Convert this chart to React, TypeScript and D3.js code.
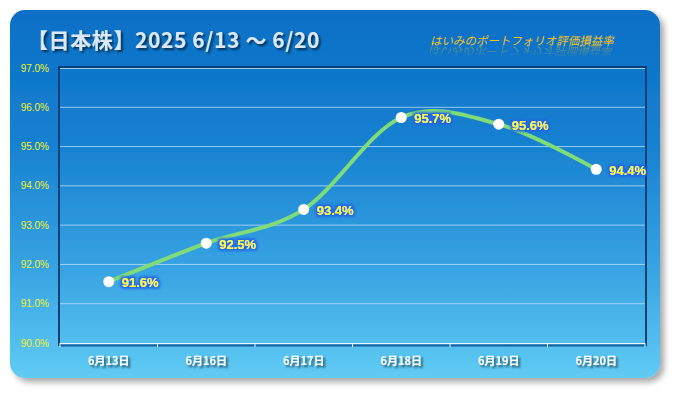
import React from "react";
import * as d3 from "d3";

const categories = ["6月13日", "6月16日", "6月17日", "6月18日", "6月19日", "6月20日"];
const values = [91.56, 92.54, 93.4, 95.74, 95.57, 94.42];
const yTicks = [90, 91, 92, 93, 94, 95, 96, 97];
const title = "【日本株】2025 6/13 〜 6/20";
const subtitle = "はいみのポートフォリオ評価損益率";

const W = 675, H = 393;
const card = { x: 10, y: 10, w: 650, h: 368, r: 15 };
const plot = { l: 60, r: 645, t: 68, b: 343 };

export default function App() {
  const x = d3.scaleBand<string>().domain(categories).range([plot.l, plot.r]);
  const y = d3.scaleLinear().domain([90, 97]).range([plot.b, plot.t]);
  const pts: [number, number][] = values.map((v, i) => [x(categories[i])! + x.bandwidth() / 2, y(v)]);
  const line = d3.line().curve(d3.curveCardinal.tension(0))(pts) || "";
  const bounds = categories.map((c) => x(c)!).concat([plot.r]);
  const font = "'Liberation Sans', 'Noto Sans CJK JP', sans-serif";
  const jp = "'Noto Sans CJK JP', sans-serif";

  return (
    <svg width={W} height={H} style={{ position: "absolute", left: 0, top: 0 }} fontFamily={font}>
      <defs>
        <linearGradient id="bg" x1="0" y1="0" x2="0" y2="1">
          <stop offset="0" stopColor="#0a6fc6" />
          <stop offset="0.35" stopColor="#1680d0" />
          <stop offset="0.7" stopColor="#37a3e2" />
          <stop offset="1" stopColor="#60cbf4" />
        </linearGradient>
        <filter id="shadow" x="-5%" y="-5%" width="115%" height="115%">
          <feGaussianBlur in="SourceAlpha" stdDeviation="3" />
          <feOffset dx="4" dy="4" />
          <feComponentTransfer><feFuncA type="linear" slope="0.35" /></feComponentTransfer>
          <feMerge><feMergeNode /><feMergeNode in="SourceGraphic" /></feMerge>
        </filter>
        <filter id="glow" x="-20%" y="-40%" width="140%" height="180%">
          <feMorphology in="SourceAlpha" operator="dilate" radius="2" result="d" />
          <feGaussianBlur in="d" stdDeviation="1.2" result="b" />
          <feFlood floodColor="#1f63e6" floodOpacity="0.85" />
          <feComposite in2="b" operator="in" result="g" />
          <feMerge><feMergeNode in="g" /><feMergeNode in="SourceGraphic" /></feMerge>
        </filter>
        <filter id="tshadow" x="-10%" y="-30%" width="120%" height="160%">
          <feGaussianBlur in="SourceAlpha" stdDeviation="1.2" />
          <feOffset dx="1.5" dy="1.5" />
          <feComponentTransfer><feFuncA type="linear" slope="0.6" /></feComponentTransfer>
          <feMerge><feMergeNode /><feMergeNode in="SourceGraphic" /></feMerge>
        </filter>
        <linearGradient id="refl" x1="0" y1="0" x2="0" y2="1">
          <stop offset="0" stopColor="white" stopOpacity="0.45" />
          <stop offset="1" stopColor="white" stopOpacity="0" />
        </linearGradient>
        <mask id="reflMask">
          <rect x="420" y="46" width="220" height="12" fill="url(#refl)" />
        </mask>
      </defs>

      <rect x={card.x} y={card.y} width={card.w} height={card.h} rx={card.r} fill="url(#bg)" filter="url(#shadow)" />

      {/* plot frame */}
      {yTicks.slice(1, -1).map((t) => (
        <line key={t} x1={plot.l} x2={plot.r} y1={y(t)} y2={y(t)} stroke="#b8dcf6" strokeOpacity={0.8} strokeWidth={1} />
      ))}
      <line x1={plot.l} x2={plot.r} y1={plot.t - 1} y2={plot.t - 1} stroke="#0c3f78" strokeWidth={2} />
      <line x1={plot.l} x2={plot.r} y1={plot.t + 0.5} y2={plot.t + 0.5} stroke="#9fcdf0" strokeWidth={1} />
      <line x1={plot.l - 1} x2={plot.l - 1} y1={plot.t - 2} y2={plot.b + 3} stroke="#0c3f78" strokeWidth={2} />
      <line x1={plot.r + 1} x2={plot.r + 1} y1={plot.t - 2} y2={plot.b + 3} stroke="#0c3f78" strokeWidth={2} />
      <line x1={plot.l} x2={plot.r + 2} y1={plot.b + 2.5} y2={plot.b + 2.5} stroke="#175f9c" strokeWidth={2} />
      <line x1={plot.l} x2={plot.r} y1={plot.b + 0.5} y2={plot.b + 0.5} stroke="#e8f6ff" strokeWidth={1.2} />
      {bounds.map((b, i) => (
        <line key={i} x1={b} x2={b} y1={plot.b} y2={plot.b + 4} stroke="#e8f6ff" strokeWidth={1} />
      ))}

      {/* y tick labels */}
      {yTicks.map((t) => (
        <text key={t} x={49} y={y(t)} dy="0.35em" textAnchor="end" fontSize={10} fill="#f2f224">
          {t.toFixed(1)}%
        </text>
      ))}

      {/* x labels */}
      {categories.map((c) => (
        <text key={c} x={x(c)! + x.bandwidth() / 2} y={361} dy="0.35em" textAnchor="middle" fontSize={11} fontWeight="bold"
          fill="#ffffff" filter="url(#tshadow)" fontFamily={jp}>
          {c}
        </text>
      ))}

      {/* line */}
      <path d={line} fill="none" stroke="#80dc78" strokeWidth={4} strokeLinecap="round" />
      {pts.map((p, i) => (
        <circle key={i} cx={p[0]} cy={p[1]} r={5.5} fill="#ffffff" />
      ))}
      {pts.map((p, i) => (
        <text key={i} x={p[0] + 13} y={p[1] + 1} dy="0.35em" fontSize={13} fontWeight="bold" fill="#ffff20" filter="url(#glow)">
          {values[i].toFixed(1)}%
        </text>
      ))}

      {/* title */}
      <text x={27} y={48} fontSize={21} fontWeight="bold" fill="#dde8f6" filter="url(#tshadow)" fontFamily={jp}
        letterSpacing={0.6}>
        {title}
      </text>

      {/* subtitle with reflection */}
      <g transform="translate(430,45) skewX(-12)">
        <text x={0} y={0} fontSize={11.5} fill="#f7c21a" fontFamily={jp}>
          {subtitle}
        </text>
      </g>
      <g mask="url(#reflMask)">
        <g transform="translate(430,46) scale(1,-1) skewX(12)">
          <text x={0} y={-1} fontSize={11.5} fill="#f7c21a" fontFamily={jp}>
            {subtitle}
          </text>
        </g>
      </g>
    </svg>
  );
}
